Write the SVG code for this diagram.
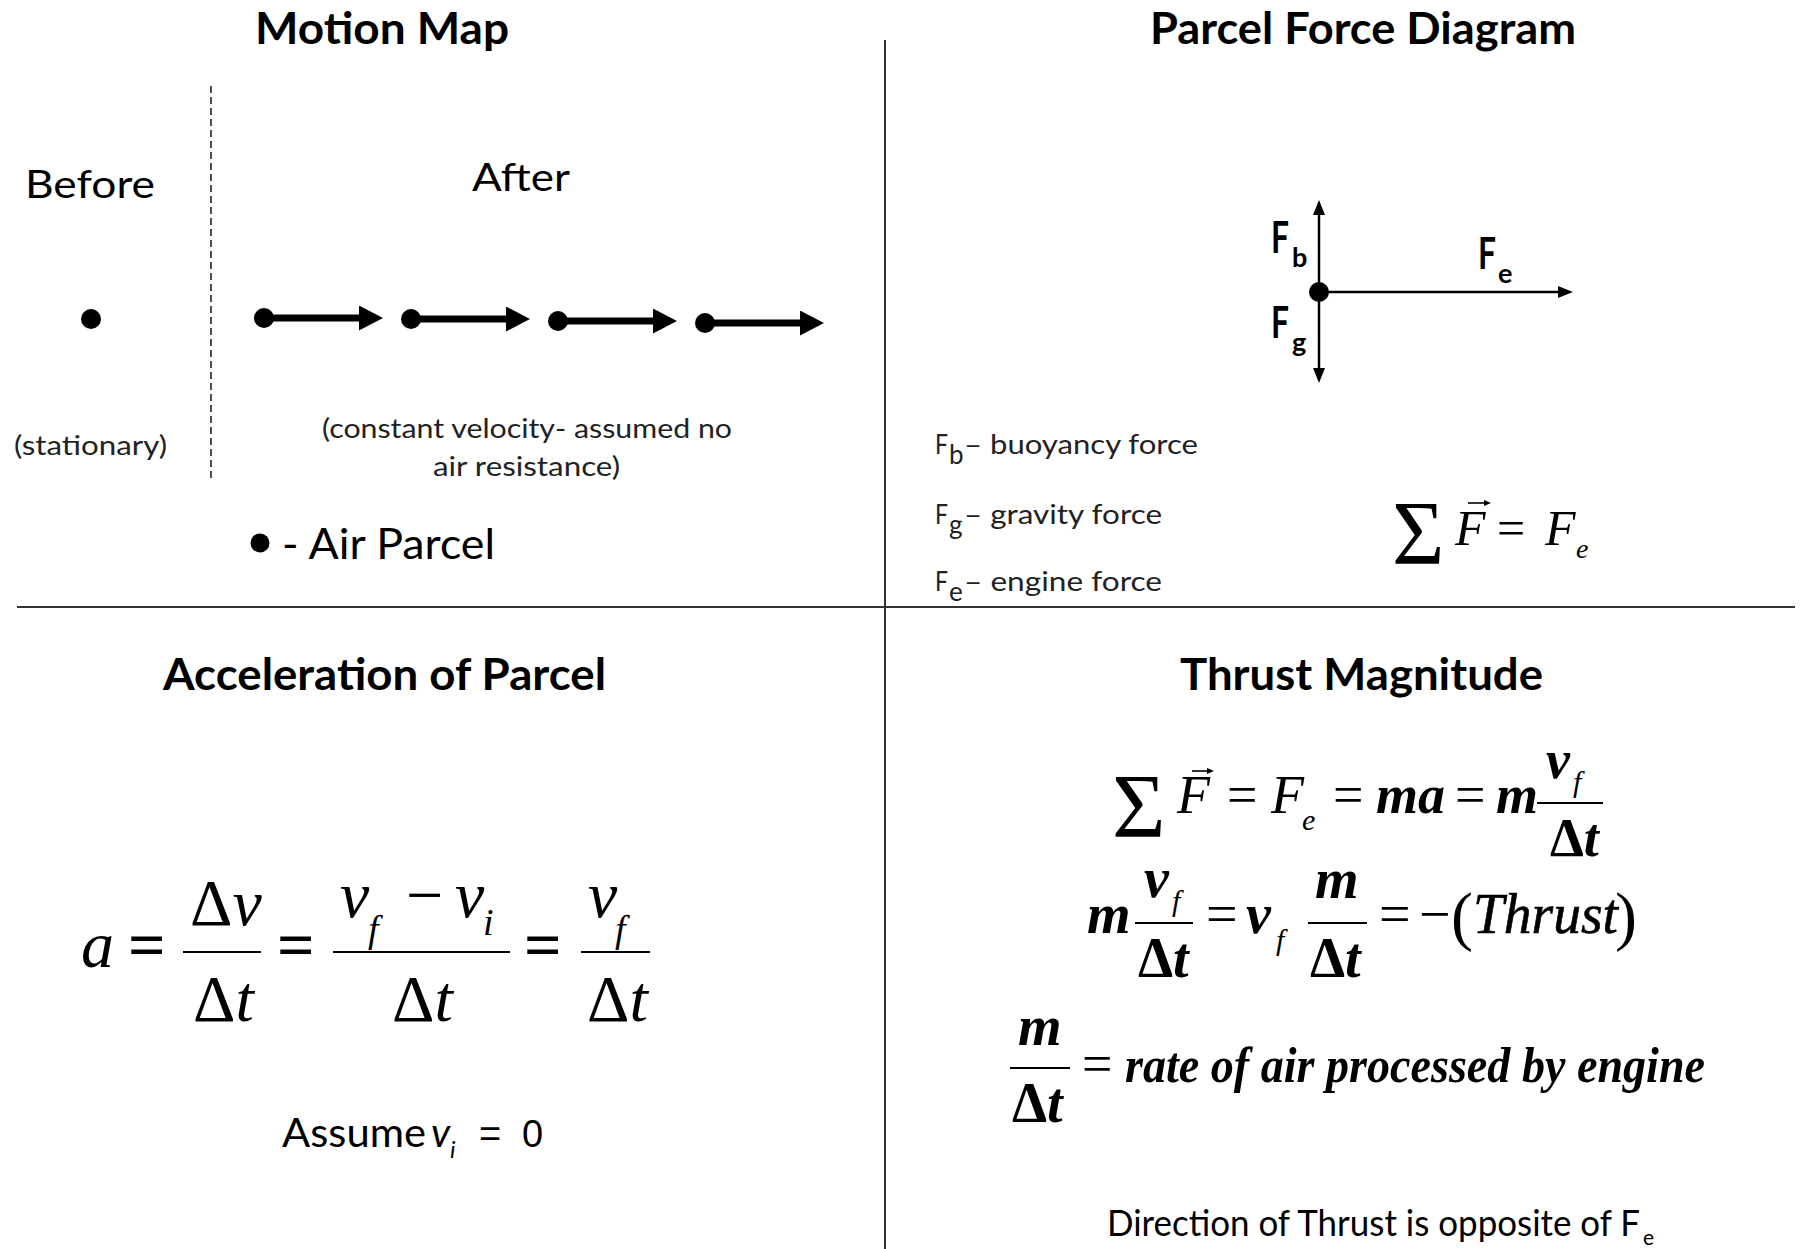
<svg xmlns="http://www.w3.org/2000/svg" width="1804" height="1249" viewBox="0 0 1804 1249">
<style>
.sans{font-family:Lato,"Liberation Sans",Arial,sans-serif;fill:#000}
.title{font-family:Lato,"Liberation Sans",Arial,sans-serif;font-weight:700;font-size:44px;fill:#000}
.small{font-family:Lato,"Liberation Sans",Arial,sans-serif;font-size:26px;fill:#222}
.m{font-family:"Liberation Serif","Times New Roman",serif;fill:#000}
.lib{font-family:"Liberation Sans",Arial,sans-serif;fill:#000}
.it{font-style:italic}
.bi{font-style:italic;font-weight:700}
.b{font-weight:700}
.div{stroke:#333;stroke-width:2;fill:none}
.bar{stroke:#000;stroke-width:2.2;fill:none}
.thick{stroke:#000;stroke-width:7;fill:none}
.thin{stroke:#000;stroke-width:2.5;fill:none}
</style>
<defs>
<marker id="bigHead" markerUnits="userSpaceOnUse" markerWidth="24" markerHeight="25" viewBox="0 0 24 25" refX="0" refY="12.5" orient="auto"><path d="M0,0 L24,12.5 L0,25 Z" fill="#000"/></marker>
<marker id="smallHead" markerUnits="userSpaceOnUse" markerWidth="15" markerHeight="12" viewBox="0 0 15 12" refX="0" refY="6" orient="auto"><path d="M0,0 L15,6 L0,12 Z" fill="#000"/></marker>
<marker id="vecHead" markerUnits="userSpaceOnUse" markerWidth="7" markerHeight="6" viewBox="0 0 7 6" refX="0" refY="3" orient="auto"><path d="M0,0 L7,3 L0,6 Z" fill="#000"/></marker>
</defs>
<rect width="1804" height="1249" fill="#fff"/>

<g id="dividers">
<line class="div" x1="885" y1="40" x2="885" y2="1249"/>
<line class="div" x1="17" y1="607" x2="1795" y2="607"/>
<line x1="211" y1="86" x2="211" y2="481" stroke="#222" stroke-width="1.6" stroke-dasharray="7,4"/>
</g>

<g id="titles">
<text class="title" x="255" y="44" textLength="254" lengthAdjust="spacingAndGlyphs">Motion Map</text>
<text class="title" x="1150" y="44" textLength="426" lengthAdjust="spacingAndGlyphs">Parcel Force Diagram</text>
<text class="title" x="163" y="690" textLength="443" lengthAdjust="spacingAndGlyphs">Acceleration of Parcel</text>
<text class="title" x="1180" y="690" textLength="363" lengthAdjust="spacingAndGlyphs">Thrust Magnitude</text>
</g>

<g id="before">
<text class="sans" x="25" y="198" font-size="38" textLength="130" lengthAdjust="spacingAndGlyphs">Before</text>
<circle cx="91" cy="319" r="10" fill="#000"/>
<text class="small" x="14" y="455" textLength="153" lengthAdjust="spacingAndGlyphs">(stationary)</text>
</g>

<g id="after">
<text class="sans" x="472" y="191" font-size="38" textLength="98" lengthAdjust="spacingAndGlyphs">After</text>
<circle cx="264" cy="318" r="10" fill="#000"/>
<circle cx="411" cy="319" r="10" fill="#000"/>
<circle cx="558" cy="321" r="10" fill="#000"/>
<circle cx="705" cy="323" r="10" fill="#000"/>
<text class="small" x="322" y="438" textLength="410" lengthAdjust="spacingAndGlyphs">(constant velocity- assumed no</text>
<text class="small" x="433" y="476" textLength="187" lengthAdjust="spacingAndGlyphs">air resistance)</text>
</g>

<g id="legend-air-parcel">
<circle cx="260" cy="543" r="9.5" fill="#000"/>
<text class="sans" x="282" y="559" font-size="42" textLength="213" lengthAdjust="spacingAndGlyphs">- Air Parcel</text>
</g>

<g id="connectors">
<line class="thick" x1="264" y1="318" x2="359" y2="318" marker-end="url(#bigHead)"/>
<line class="thick" x1="411" y1="319" x2="506" y2="319" marker-end="url(#bigHead)"/>
<line class="thick" x1="558" y1="321" x2="653" y2="321" marker-end="url(#bigHead)"/>
<line class="thick" x1="705" y1="323" x2="800" y2="323" marker-end="url(#bigHead)"/>
<line class="thin" x1="1319" y1="292" x2="1319" y2="215" marker-end="url(#smallHead)"/>
<line class="thin" x1="1319" y1="292" x2="1319" y2="368" marker-end="url(#smallHead)"/>
<line class="thin" x1="1319" y1="292" x2="1558" y2="292" marker-end="url(#smallHead)"/>
</g>

<g id="parcel">
<circle cx="1319" cy="292" r="10" fill="#000"/>
<text class="sans b" x="1271" y="253" font-size="44" textLength="18" lengthAdjust="spacingAndGlyphs">F</text>
<text class="sans b" x="1292" y="267" font-size="27">b</text>
<text class="sans b" x="1478" y="269" font-size="44" textLength="18" lengthAdjust="spacingAndGlyphs">F</text>
<text class="sans b" x="1498" y="283" font-size="27">e</text>
<text class="sans b" x="1271" y="338" font-size="44" textLength="18" lengthAdjust="spacingAndGlyphs">F</text>
<text class="sans b" x="1292" y="352" font-size="27">g</text>
</g>

<g id="force-legend">
<text class="small" x="935" y="454" font-size="30" textLength="13" lengthAdjust="spacingAndGlyphs">F</text>
<text class="small" x="949" y="464" font-size="20">b</text>
<text class="small" x="964" y="454" font-size="28" textLength="234" lengthAdjust="spacingAndGlyphs">– buoyancy force</text>
<text class="small" x="935" y="524" font-size="30" textLength="13" lengthAdjust="spacingAndGlyphs">F</text>
<text class="small" x="949" y="534" font-size="20">g</text>
<text class="small" x="964" y="524" font-size="28" textLength="198" lengthAdjust="spacingAndGlyphs">– gravity force</text>
<text class="small" x="935" y="591" font-size="30" textLength="13" lengthAdjust="spacingAndGlyphs">F</text>
<text class="small" x="949" y="601" font-size="20">e</text>
<text class="small" x="964" y="591" font-size="28" textLength="198" lengthAdjust="spacingAndGlyphs">– engine force</text>
</g>

<g id="net-force">
<text class="m" x="1392" y="564" font-size="90">Σ</text>
<text class="m it" x="1455" y="545" font-size="50">F</text>
<line x1="1468" y1="503" x2="1484" y2="503" stroke="#000" stroke-width="1.6" marker-end="url(#vecHead)"/>
<text class="m" x="1497" y="545" font-size="50">=</text>
<text class="m it" x="1545" y="545" font-size="50">F</text>
<text class="m it" x="1576" y="558" font-size="28">e</text>
</g>

<g id="acceleration-eq">
<text class="m it" x="81" y="967" font-size="66">a</text>
<text class="m b" x="128" y="967" font-size="66">=</text>
<line class="bar" x1="183" y1="952" x2="261" y2="952"/>
<text class="m" x="190" y="925" font-size="66">Δ<tspan class="it">v</tspan></text>
<text class="m" x="193" y="1021" font-size="66">Δ<tspan class="it">t</tspan></text>
<text class="m b" x="277" y="967" font-size="66">=</text>
<line class="bar" x1="333" y1="952" x2="510" y2="952"/>
<text class="m it" x="340" y="917" font-size="66">v</text>
<text class="m it" x="368" y="942" font-size="38">f</text>
<text class="m" x="406" y="917" font-size="66">−</text>
<text class="m it" x="455" y="917" font-size="66">v</text>
<text class="m it" x="483" y="935" font-size="38">i</text>
<text class="m" x="392" y="1021" font-size="66">Δ<tspan class="it">t</tspan></text>
<text class="m b" x="524" y="967" font-size="66">=</text>
<line class="bar" x1="581" y1="952" x2="650" y2="952"/>
<text class="m it" x="588" y="917" font-size="66">v</text>
<text class="m it" x="615" y="942" font-size="38">f</text>
<text class="m" x="587" y="1021" font-size="66">Δ<tspan class="it">t</tspan></text>
</g>

<g id="assume">
<text class="sans" x="282" y="1147" font-size="40" textLength="144" lengthAdjust="spacingAndGlyphs">Assume</text>
<text class="sans it" x="431" y="1147" font-size="40">v</text>
<text class="sans it" x="450" y="1158" font-size="24">i</text>
<text class="lib" x="479" y="1147" font-size="38">=</text>
<text class="lib" x="522" y="1147" font-size="38">0</text>
</g>

<g id="thrust-eq1">
<text class="m" x="1112" y="837" font-size="92">Σ</text>
<text class="m it" x="1177" y="813" font-size="54">F</text>
<line x1="1192" y1="771" x2="1207" y2="771" stroke="#000" stroke-width="1.6" marker-end="url(#vecHead)"/>
<text class="m" x="1227" y="813" font-size="54">=</text>
<text class="m it" x="1271" y="813" font-size="54">F</text>
<text class="m it" x="1302" y="830" font-size="30">e</text>
<text class="m" x="1333" y="813" font-size="54">=</text>
<text class="m bi" x="1376" y="813" font-size="54">ma</text>
<text class="m" x="1455" y="813" font-size="54">=</text>
<text class="m bi" x="1496" y="813" font-size="54">m</text>
<line class="bar" x1="1537" y1="803" x2="1603" y2="803"/>
<text class="m bi" x="1546" y="778" font-size="54">v</text>
<text class="m it" x="1573" y="792" font-size="30">f</text>
<text class="m b" x="1550" y="856" font-size="54">Δ<tspan class="bi">t</tspan></text>
</g>

<g id="thrust-eq2">
<text class="m bi" x="1087" y="933" font-size="56">m</text>
<line class="bar" x1="1135" y1="923" x2="1193" y2="923"/>
<text class="m bi" x="1144" y="897" font-size="56">v</text>
<text class="m it" x="1172" y="911" font-size="30">f</text>
<text class="m b" x="1138" y="977" font-size="56">Δ<tspan class="bi">t</tspan></text>
<text class="m" x="1206" y="933" font-size="56">=</text>
<text class="m bi" x="1246" y="933" font-size="56">v</text>
<text class="m it" x="1276" y="950" font-size="30">f</text>
<line class="bar" x1="1308" y1="923" x2="1367" y2="923"/>
<text class="m bi" x="1315" y="898" font-size="56">m</text>
<text class="m b" x="1310" y="977" font-size="56">Δ<tspan class="bi">t</tspan></text>
<text class="m" x="1379" y="933" font-size="56">=</text>
<text class="m" x="1419" y="933" font-size="56">−</text>
<text class="m" x="1451" y="938" font-size="66">(</text>
<text class="m it" x="1473" y="933" font-size="56" textLength="145" lengthAdjust="spacingAndGlyphs" stroke="#000" stroke-width="0.6">Thrust</text>
<text class="m" x="1615" y="938" font-size="66">)</text>
</g>

<g id="thrust-eq3">
<text class="m bi" x="1018" y="1045" font-size="56">m</text>
<line class="bar" x1="1010" y1="1068" x2="1070" y2="1068"/>
<text class="m b" x="1012" y="1122" font-size="56">Δ<tspan class="bi">t</tspan></text>
<text class="m" x="1082" y="1082" font-size="54">=</text>
<text class="m bi" x="1125" y="1082" font-size="50" textLength="580" lengthAdjust="spacingAndGlyphs">rate of air processed by engine</text>
</g>

<g id="direction-note">
<text class="sans" x="1107" y="1236" font-size="36" textLength="533" lengthAdjust="spacingAndGlyphs">Direction of Thrust is opposite of F</text>
<text class="sans" x="1643" y="1245" font-size="21">e</text>
</g>
</svg>
